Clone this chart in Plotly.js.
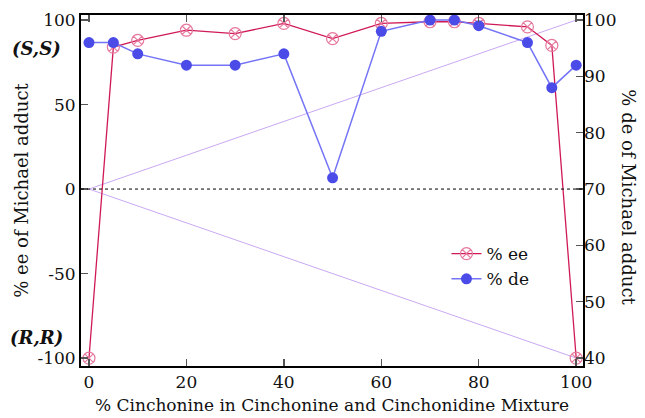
<!DOCTYPE html>
<html>
<head>
<meta charset="utf-8">
<script src="https://cdn.plot.ly/plotly-3.0.1.min.js"></script>
<style>html,body{margin:0;padding:0;background:#fff;}#chart{width:645px;height:418px;}</style>
</head>
<body>
<div id="chart"></div>
<script>
// Data
const cinchonine = [0, 5, 10, 20, 30, 40, 50, 60, 70, 75, 80, 90, 95, 100];
const eeValues   = [-100, 84, 88, 94, 92, 98, 89, 98, 99, 99, 98, 96, 85, -100];
const deValues   = [96, 96, 94, 92, 92, 94, 72, 98, 100, 100, 99, 96, 88, 92];
const guideX     = [0, 100];
const guideUp    = [0, 100];
const guideDown  = [0, -100];
const xTicks     = [0, 20, 40, 60, 80, 100];
const yTickVals  = [-100, -50, 0, 50, 100];
const yTickText  = ['-100', '-50', '0', '50', '100'];
const y2Ticks    = [40, 50, 60, 70, 80, 90, 100];

const FONT = "DejaVu Serif";
const guideColor = '#c9a9f2';

const traces = [
  {x: guideX, y: guideUp, mode: 'lines', line: {color: guideColor, width: 1}, showlegend: false, hoverinfo: 'skip'},
  {x: guideX, y: guideDown, mode: 'lines', line: {color: guideColor, width: 1}, showlegend: false, hoverinfo: 'skip'},
  {x: cinchonine, y: eeValues, name: '% ee', mode: 'lines+markers',
   line: {color: '#d01a55', width: 1.3},
   marker: {symbol: 'circle-x-open', size: 12, color: '#e6789c', line: {width: 1.2}}},
  {x: cinchonine, y: deValues, name: '% de', mode: 'lines+markers', yaxis: 'y2',
   line: {color: '#7474f6', width: 1.5},
   marker: {symbol: 'circle', size: 11, color: '#4b4be8'}}
];

const axisCommon = {
  showgrid: false, zeroline: false, showline: true, linecolor: '#000', linewidth: 2,
  ticks: 'inside', ticklen: 7, tickcolor: '#555', tickwidth: 1.5,
  tickfont: {family: FONT, size: 17, color: '#111'}
};

const layout = {
  width: 645, height: 418,
  margin: {l: 81, r: 62, t: 15, b: 52},
  paper_bgcolor: '#fff', plot_bgcolor: '#fff',
  font: {family: FONT, size: 17, color: '#111'},
  showlegend: true,
  legend: {x: 0.728, y: 0.37, xanchor: 'left', yanchor: 'top', bgcolor: 'rgba(0,0,0,0)',
           font: {family: FONT, size: 17, color: '#111'}, tracegroupgap: 0, itemwidth: 30},
  xaxis: Object.assign({}, axisCommon, {
    range: [-1.64, 101.4], tickvals: xTicks, mirror: 'ticks',
    title: {text: '% Cinchonine in Cinchonine and Cinchonidine Mixture', font: {family: FONT, size: 17, color: '#111'}, standoff: 8}
  }),
  yaxis: Object.assign({}, axisCommon, {
    range: [-104.7, 103], tickvals: yTickVals, ticktext: yTickText, mirror: true,
    title: {text: '% ee of Michael adduct', font: {family: FONT, size: 18, color: '#111'}, standoff: 4}
  }),
  yaxis2: Object.assign({}, axisCommon, {
    range: [38.59, 100.9], tickvals: y2Ticks, overlaying: 'y', side: 'right', showline: false
  }),
  shapes: [
    {type: 'line', xref: 'paper', x0: 0, x1: 1, yref: 'y', y0: 0, y1: 0,
     line: {color: '#000', width: 1, dash: '3px,3px'}}
  ],
  annotations: [
    {text: '<b><i>(S,S)</i></b>', xref: 'paper', yref: 'y', x: -0.088, y: 83, showarrow: false,
     font: {family: FONT, size: 18, color: '#111'}, xanchor: 'center'},
    {text: '<b><i>(R,R)</i></b>', xref: 'paper', yref: 'y', x: -0.088, y: -88, showarrow: false,
     font: {family: FONT, size: 18, color: '#111'}, xanchor: 'center'},
    {text: '% de of Michael adduct', xref: 'paper', yref: 'paper', x: 1.09, y: 0.48,
     xanchor: 'center', yanchor: 'middle',
     textangle: 90, showarrow: false, font: {family: FONT, size: 18, color: '#111'}}
  ]
};

Plotly.newPlot('chart', traces, layout, {displayModeBar: false, staticPlot: true});
</script>
</body>
</html>
